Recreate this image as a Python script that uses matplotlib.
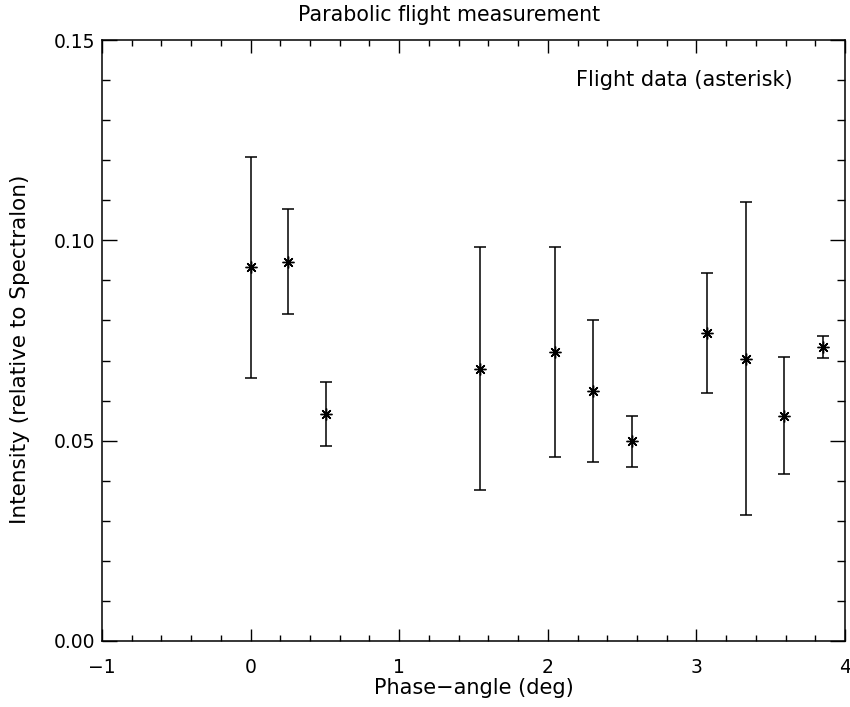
import matplotlib
matplotlib.use("Agg")
import matplotlib.pyplot as plt
from matplotlib.ticker import MultipleLocator, FormatStrFormatter

# Data
phase_angle = [0.0, 0.25, 0.507, 1.544, 2.051, 2.306, 2.567, 3.073, 3.331, 3.589, 3.85]
intensity = [0.0933, 0.0947, 0.0566, 0.0680, 0.0722, 0.0623, 0.0498, 0.0769, 0.0705, 0.0562, 0.0734]
intensity_err = [0.0276, 0.0131, 0.0080, 0.0304, 0.0262, 0.0177, 0.0064, 0.0149, 0.0390, 0.0146, 0.0028]

x_ticks = [-1, 0, 1, 2, 3, 4]
y_ticks = [0.00, 0.05, 0.10, 0.15]

plt.rcParams['font.family'] = ['DejaVu Sans']

fig = plt.figure(figsize=(8.5, 7.07), dpi=100)
ax = fig.add_axes([102/850, 66/707, 743/850, 601/707])

ax.errorbar(phase_angle, intensity, yerr=intensity_err, fmt='none',
            ecolor='black', elinewidth=1.1, capsize=4, capthick=1.1)
ax.plot(phase_angle, intensity, linestyle='none', marker=(8, 2, 0),
        markersize=8.5, markeredgewidth=1.0, color='black')

ax.set_xlim(-1, 4)
ax.set_ylim(0, 0.15)
ax.set_xticks(x_ticks)
ax.set_yticks(y_ticks)
ax.yaxis.set_major_formatter(FormatStrFormatter('%.2f'))
ax.xaxis.set_minor_locator(MultipleLocator(0.2))
ax.yaxis.set_minor_locator(MultipleLocator(0.01))

ax.tick_params(axis='x', which='major', direction='in', length=9, width=1.0,
               top=True, bottom=True, labelsize=13.5, pad=12)
ax.tick_params(axis='x', which='minor', direction='in', length=4.5, width=1.0,
               top=True, bottom=True)
ax.tick_params(axis='y', which='major', direction='in', length=11, width=1.0,
               left=True, right=True, labelsize=13.5, pad=5)
ax.tick_params(axis='y', which='minor', direction='in', length=5.5, width=1.0,
               left=True, right=True)
for s in ax.spines.values():
    s.set_linewidth(1.1)

ax.set_xlabel('Phase\u2212angle (deg)', fontsize=15, labelpad=1)
ax.set_ylabel('Intensity (relative to Spectralon)', fontsize=15.5,
              va='center', ha='center')
ax.yaxis.set_label_coords(-82/743, 0.485)
fig.text(449/850, 1 - 15/707, 'Parabolic flight measurement', fontsize=14.8,
         ha='center', va='center')
ax.text(3.65, 0.14, 'Flight data (asterisk)', fontsize=15, ha='right', va='center')

fig.savefig('out.png', dpi=100, facecolor='white')
